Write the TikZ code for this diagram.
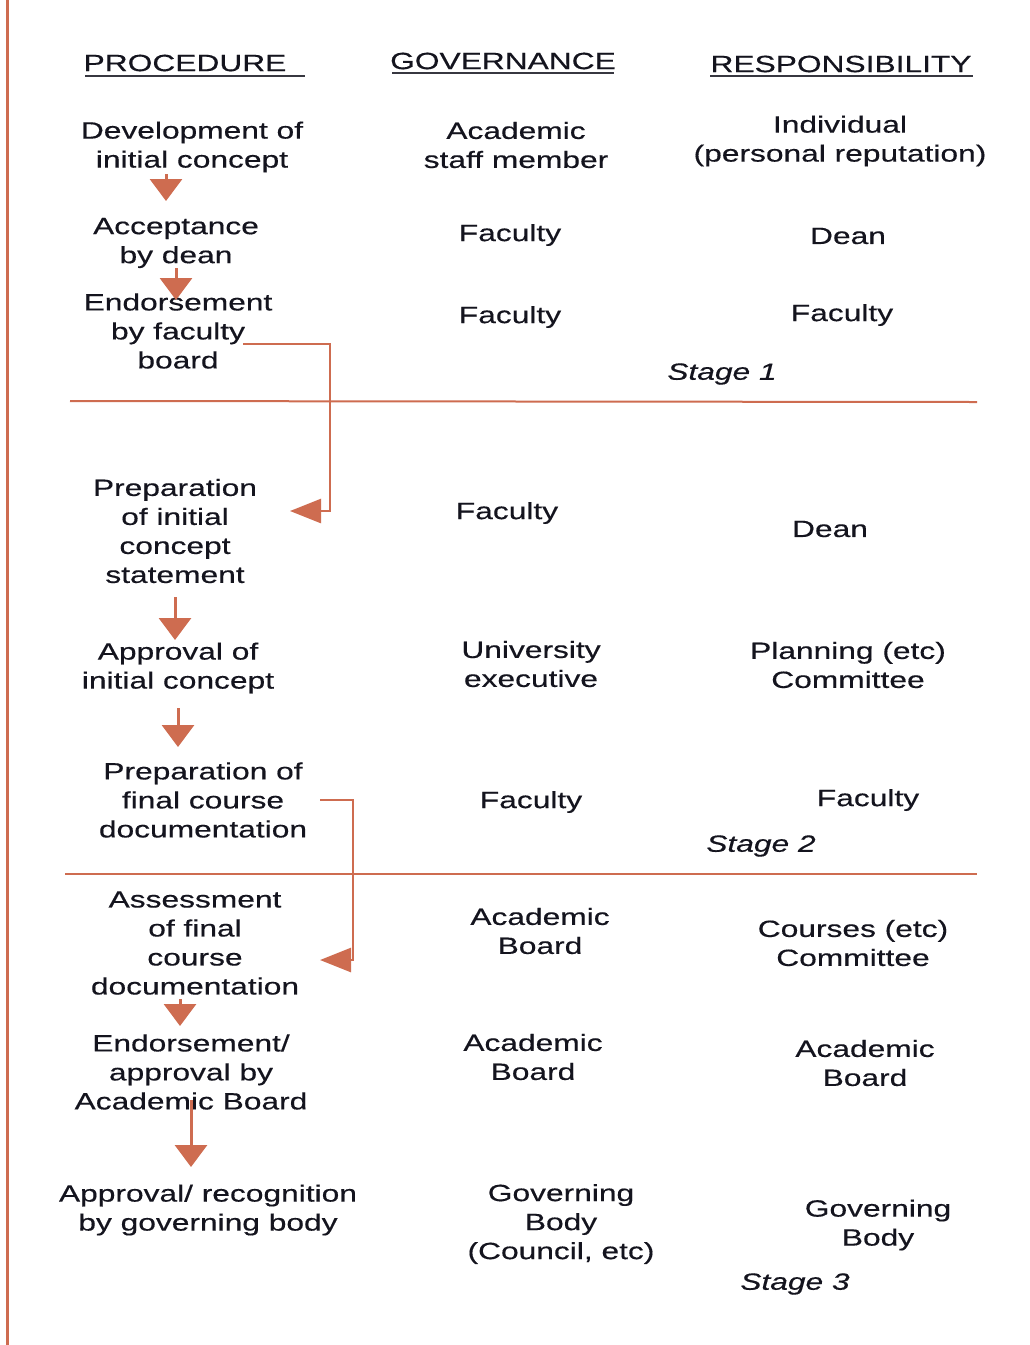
\documentclass[tikz,border=0pt]{standalone}
\usepackage{fontspec}
\setmainfont{Liberation Sans}[FakeStretch=1.35,FakeBold=0.4]
\usetikzlibrary{arrows.meta}
\definecolor{rust}{RGB}{206,108,80}
\definecolor{ink}{RGB}{20,20,30}
\begin{document}
\begin{tikzpicture}[x=1pt,y=-1pt,
  lbl/.style={align=center,inner sep=0pt,yshift=-3pt,text=ink,font=\fontsize{23.5}{29}\selectfont},
  stagelbl/.style={lbl,font=\fontsize{23.5}{29}\selectfont\itshape},
  uline/.style={draw=ink!85,line width=1.6pt},
  rule/.style={draw=rust,line width=2pt},
  border/.style={draw=rust,line width=3pt},
  flowdown/.style={draw=rust,line width=3pt,-{Triangle[width=32pt,length=22pt]}},
  flowleft/.style={draw=rust,line width=2.5pt,line join=miter,-{Triangle[width=24pt,length=31pt]}},
]
\fill[white] (0,0) rectangle (1029,1345);
\useasboundingbox (0,0) rectangle (1029,1345);

% left border
\draw[border] (7,0) -- (7,1345);

% column headings
\node[lbl] (hproc) at (185,60) {PROCEDURE};
\node[lbl] (hgov)  at (503,58) {GOVERNANCE};
\node[lbl] (hresp) at (841,61) {RESPONSIBILITY};
\draw[uline] (85,76) -- (305,76);
\draw[uline] (392,73) -- (614,73);
\draw[uline] (710,76) -- (973,76);

% procedure column
\node[lbl] (p1) at (192,144) {Development of\\initial concept};
\node[lbl] (p2) at (176,240) {Acceptance\\by dean};
\node[lbl] (p3) at (178,328) {Endorsement\\by faculty\\board};
\node[lbl] (p4) at (175,528) {Preparation\\of initial\\concept\\statement};
\node[lbl] (p5) at (178,665) {Approval of\\initial concept};
\node[lbl] (p6) at (203,797) {Preparation of\\final course\\documentation};
\node[lbl] (p7) at (195,940) {Assessment\\of final\\course\\documentation};
\node[lbl] (p8) at (191,1069) {Endorsement/\\approval by\\Academic Board};
\node[lbl] (p9) at (208,1207) {Approval/ recognition\\by governing body};

% governance column
\node[lbl] (g1) at (516,142) {Academic\\staff member};
\node[lbl] (g2) at (510,232) {Faculty};
\node[lbl] (g3) at (510,314) {Faculty};
\node[lbl] (g4) at (507,510) {Faculty};
\node[lbl] (g5) at (531,661) {University\\executive};
\node[lbl] (g6) at (531,799) {Faculty};
\node[lbl] (g7) at (540,928) {Academic\\Board};
\node[lbl] (g8) at (533,1054) {Academic\\Board};
\node[lbl] (g9) at (561,1221) {Governing\\Body\\(Council, etc)};

% responsibility column
\node[lbl] (r1) at (840,138) {Individual\\(personal reputation)};
\node[lbl] (r2) at (848,233) {Dean};
\node[lbl] (r3) at (842,312) {Faculty};
\node[lbl] (r4) at (830,526) {Dean};
\node[lbl] (r5) at (848,662) {Planning (etc)\\Committee};
\node[lbl] (r6) at (868,797) {Faculty};
\node[lbl] (r7) at (853,940) {Courses (etc)\\Committee};
\node[lbl] (r8) at (865,1060) {Academic\\Board};
\node[lbl] (r9) at (878,1222) {Governing\\Body};

% stage dividers and labels
\draw[rule] (70,401) -- (977,402);
\draw[rule] (65,874) -- (977,874);
\node[stagelbl] (s1) at (722,371) {Stage 1};
\node[stagelbl] (s2) at (761,843) {Stage 2};
\node[stagelbl] (s3) at (795,1281) {Stage 3};

% connector end points
\coordinate (a1s) at (166,174);  \coordinate (a1e) at (166,201);
\coordinate (a2s) at (176,268);  \coordinate (a2e) at (176,300);
\coordinate (b1s) at (243,344);  \coordinate (b1e) at (290,511);
\coordinate (a3s) at (175,597);  \coordinate (a3e) at (175,640);
\coordinate (a4s) at (178,708);  \coordinate (a4e) at (178,747);
\coordinate (b2s) at (320,800);  \coordinate (b2e) at (320,960);
\coordinate (a5s) at (180,999);  \coordinate (a5e) at (180,1026);
\coordinate (a6s) at (191,1100); \coordinate (a6e) at (191,1167);

% flow arrows
\draw[flowdown] (a1s) -- (a1e);
\draw[flowdown] (a2s) -- (a2e);
\draw[flowleft] (b1s) -- (330,344) -- (330,511) -- (b1e);
\draw[flowdown] (a3s) -- (a3e);
\draw[flowdown] (a4s) -- (a4e);
\draw[flowleft] (b2s) -- (353,800) -- (353,960) -- (b2e);
\draw[flowdown] (a5s) -- (a5e);
\draw[flowdown] (a6s) -- (a6e);
\end{tikzpicture}
\end{document}
